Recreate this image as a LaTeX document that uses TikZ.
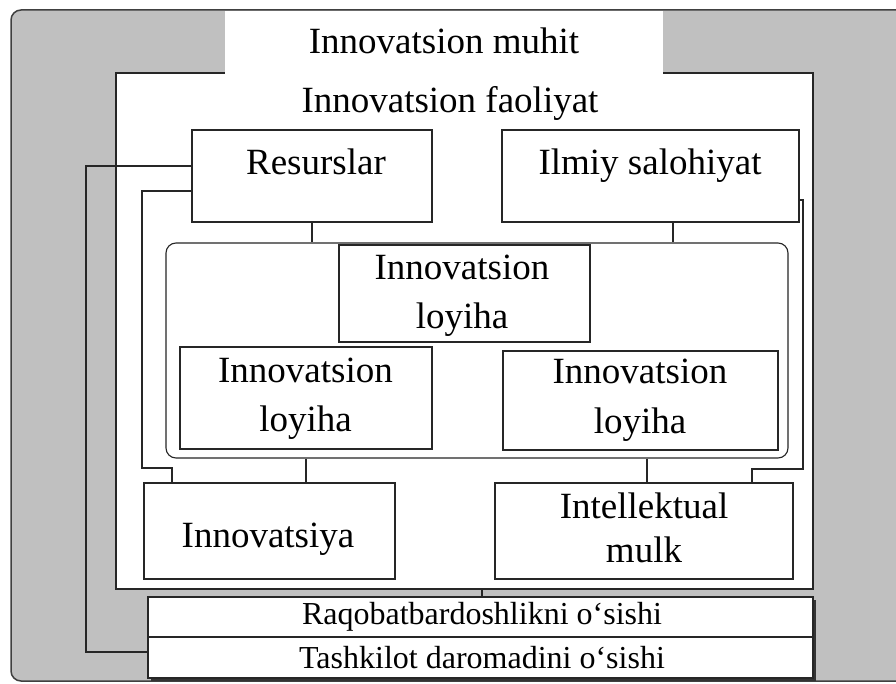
\documentclass[tikz,border=0pt]{standalone}
\usepackage{fontspec}
\setmainfont{Liberation Serif}
\definecolor{envgray}{RGB}{192,192,192}
\begin{document}
\begin{tikzpicture}[x=1pt,y=-1pt,
  envbox/.style={draw=black!75, line width=1.5pt, fill=envgray, rounded corners=10pt, inner sep=0pt},
  box/.style={draw=black!85, line width=1.1pt, fill=white, rectangle, inner sep=0pt},
  big/.style={inner sep=0pt, anchor=base, font=\fontsize{37}{44}\selectfont},
  small/.style={inner sep=0pt, anchor=base, font=\fontsize{32}{38}\selectfont},
  wire/.style={draw=black!85, line width=1.1pt}]
\useasboundingbox (0,0) rectangle (896,684);

% environment and activity frames
\node[envbox, minimum width=919pt, minimum height=671pt] (env) at (470.5,345.5) {};
\node[box, minimum width=697pt, minimum height=516pt] (fa) at (464.5,331) {};
\node[fill=white, draw=none, inner sep=0pt, minimum width=438pt, minimum height=63pt] (title) at (444,42.5) {};
\node[big] (titletxt) at (444,54) {Innovatsion muhit};
\node[big] (fatxt) at (450,113) {Innovatsion faoliyat};

% inputs
\node[box, minimum width=240pt, minimum height=92pt] (res) at (312,176) {};
\node[big] (restxt) at (316,175) {Resurslar};
\node[box, minimum width=297pt, minimum height=92pt] (ilm) at (650.5,176) {};
\node[big] (ilmtxt) at (650,175) {Ilmiy salohiyat};

% project group
\node[box, rounded corners=10pt, minimum width=622pt, minimum height=215pt] (grp) at (477,350.5) {};
\node[box, minimum width=251pt, minimum height=97pt] (lpt) at (464.5,293.5) {};
\node[big] (lpta) at (462,280) {Innovatsion};
\node[big] (lptb) at (462,328) {loyiha};
\node[box, minimum width=252pt, minimum height=102pt] (lpl) at (306,398) {};
\node[big] (lpla) at (305.5,382) {Innovatsion};
\node[big] (lplb) at (305.5,431) {loyiha};
\node[box, minimum width=275pt, minimum height=99pt] (lpr) at (640.5,400.5) {};
\node[big] (lpra) at (640,383) {Innovatsion};
\node[big] (lprb) at (640,433) {loyiha};

% outputs
\node[box, minimum width=251pt, minimum height=96pt] (inn) at (269.5,531) {};
\node[big] (inntxt) at (268,547) {Innovatsiya};
\node[box, minimum width=298pt, minimum height=96pt] (ip) at (644,531) {};
\node[big] (ipa) at (644,518) {Intellektual};
\node[big] (ipb) at (644,562) {mulk};

% result bars with shadow
\fill[black!80] (151,600) rectangle (816,681);
\node[box, minimum width=665pt, minimum height=40pt] (bar1) at (480.5,617) {};
\node[box, minimum width=665pt, minimum height=41pt] (bar2) at (480.5,657.5) {};
\node[small] (bar1txt) at (482,624) {Raqobatbardoshlikni o‘sishi};
\node[small] (bar2txt) at (482,668) {Tashkilot daromadini o‘sishi};

% routing points
\coordinate (k1) at (86,166);
\coordinate (k2) at (0,652);
\coordinate (k3) at (142,191);
\coordinate (k4) at (142,468);
\coordinate (k5) at (172,0);
\coordinate (k7) at (673,0);
\coordinate (k8) at (803,200);
\coordinate (k9) at (803,469);
\coordinate (k10) at (752,0);
\coordinate (k11) at (647,0);
\coordinate (k12) at (482,0);

% connectors
\draw[wire] (res.west |- k1) -- (k1) |- (bar2.west |- k2);
\draw[wire] (res.west |- k3) -- (k3) -- (k4) -| (inn.north -| k5);
\draw[wire] (res.south) -- (res.south |- grp.north);
\draw[wire] (ilm.south -| k7) -- (grp.north -| k7);
\draw[wire] (ilm.east |- k8) -- (k8) -- (k9) -| (ip.north -| k10);
\draw[wire] (grp.south -| lpl.south) -- (inn.north -| lpl.south);
\draw[wire] (grp.south -| k11) -- (ip.north -| k11);
\draw[wire] (fa.south -| k12) -- (bar1.north -| k12);
\end{tikzpicture}
\end{document}
